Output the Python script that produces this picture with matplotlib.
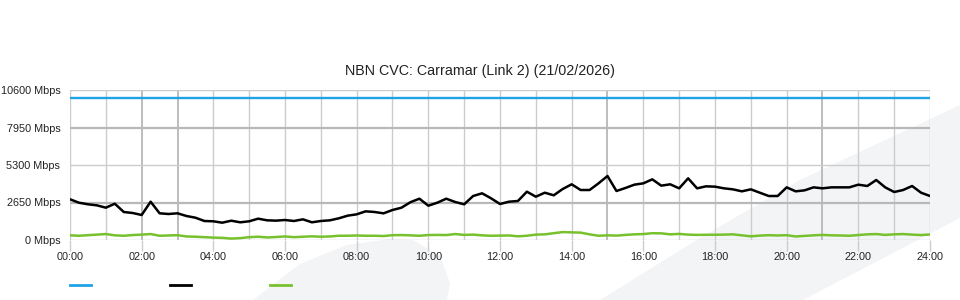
"""NBN CVC link utilisation for one day (Carramar, link 2)."""
import numpy as np
import matplotlib
matplotlib.use('Agg')
import matplotlib.pyplot as plt
from matplotlib.patches import Polygon
from matplotlib.lines import Line2D

plt.rcParams['font.family'] = ['Liberation Sans', 'DejaVu Sans']

TITLE = "NBN CVC: Carramar (Link 2) (21/02/2026)"

# 15 minute samples, 00:00 .. 24:00 (Mbps)
HOURS = np.arange(97) * 0.25
CAPACITY = 10000

TRAFFIC = [
    2876, 2636, 2523, 2450, 2283, 2565, 1979, 1908,
    1767, 2707, 1887, 1837, 1887, 1696, 1576, 1343,
    1321, 1223, 1364, 1250, 1321, 1508, 1390, 1367,
    1413, 1343, 1460, 1250, 1343, 1390, 1531, 1720,
    1814, 2026, 1979, 1884, 2120, 2283, 2670, 2919,
    2424, 2636, 2919, 2685, 2523, 3109, 3300, 2947,
    2544, 2707, 2756, 3414, 3060, 3343, 3159, 3604,
    3936, 3533, 3533, 4004, 4523, 3463, 3675, 3910,
    4004, 4287, 3840, 3936, 3651, 4358, 3651, 3793,
    3769, 3651, 3580, 3439, 3580, 3343, 3109, 3109,
    3721, 3439, 3509, 3721, 3651, 3721, 3721, 3721,
    3910, 3816, 4240, 3721, 3392, 3533, 3816, 3343,
    3109,
]

UPSTREAM = [
    330, 300, 340, 380, 420, 330, 300, 350,
    380, 420, 300, 320, 340, 250, 230, 200,
    170, 150, 100, 130, 200, 230, 180, 210,
    250, 200, 230, 260, 230, 250, 300, 300,
    320, 300, 300, 280, 340, 350, 330, 300,
    350, 360, 350, 420, 360, 380, 330, 300,
    310, 320, 260, 300, 380, 400, 480, 560,
    540, 520, 400, 300, 330, 310, 360, 400,
    420, 480, 470, 400, 430, 380, 360, 370,
    370, 380, 400, 330, 260, 310, 340, 320,
    340, 250, 290, 330, 360, 330, 320, 300,
    350, 400, 420, 360, 400, 420, 380, 350,
    390,
]

Y_TICKS = [0, 2650, 5300, 7950, 10600]
X_TICKS = list(range(0, 25, 2))
X_LABELS = [f"{h:02d}:00" for h in X_TICKS]

BLUE, BLACK, GREEN = '#1ea3e6', '#000000', '#78c12e'
GRID, GRID_DARK, SHADE = '#cccccc', '#b8b8b8', '#f3f4f6'
W, H = 960, 300


def px(x, y):
    return x / W, 1 - y / H


fig = plt.figure(figsize=(9.6, 3.0), dpi=100, facecolor='white')

# faint background shapes, behind the axes
blob = [(253, 300), (300, 264), (347, 245), (390, 239), (413, 240),
        (440, 256), (450, 283), (447, 300)]
band = [(600, 300), (700, 238), (800, 180), (960, 105), (960, 218), (803, 300)]
for shape in (blob, band):
    fig.patches.append(Polygon([px(*p) for p in shape], closed=True,
                               transform=fig.transFigure, facecolor=SHADE,
                               edgecolor='none', zorder=-5))

ax = fig.add_axes([70 / W, 0.2, 860 / W, 0.5])
ax.set_zorder(2)
ax.set_facecolor('none')
for s in ax.spines.values():
    s.set_visible(False)

ax.set_xlim(0, 24)
ax.set_ylim(0, 10600)

for h in range(25):
    dark = h in (2, 3, 15, 21)
    ax.axvline(h, color=GRID_DARK if dark else GRID, lw=1.3 if dark else 1.0, zorder=1)
for v in Y_TICKS:
    dark = v in (2650, 7950)
    ax.axhline(v, color=GRID_DARK if dark else GRID, lw=1.6 if dark else 1.0, zorder=1)

ax.plot([0, 24], [CAPACITY, CAPACITY], color=BLUE, lw=1.7, zorder=3)
ax.plot(HOURS, TRAFFIC, color=BLACK, lw=1.8, zorder=4)
ax.plot(HOURS, UPSTREAM, color=GREEN, lw=1.8, zorder=3)

ax.set_xticks(X_TICKS)
ax.set_xticklabels(X_LABELS, fontsize=7.8, color='#222222')
ax.set_yticks(Y_TICKS)
ax.set_yticklabels([f"{v} Mbps" for v in Y_TICKS], fontsize=7.8, color='#222222')
ax.tick_params(axis='x', length=8, width=1, color=GRID, pad=1)
ax.tick_params(axis='y', length=0, pad=7)

fig.text(0.5, 1 - 71 / H, TITLE, ha='center', va='center', fontsize=10.3, color='#222222')

# legend swatches (no labels in the original)
for x0, c in ((70, BLUE), (170, BLACK), (270, GREEN)):
    (x1, y1), (x2, _) = px(x0, 285), px(x0 + 21, 285)
    fig.add_artist(Line2D([x1, x2], [y1, y1], color=c, lw=2, transform=fig.transFigure))

fig.savefig('out.png', dpi=100, facecolor='white')
